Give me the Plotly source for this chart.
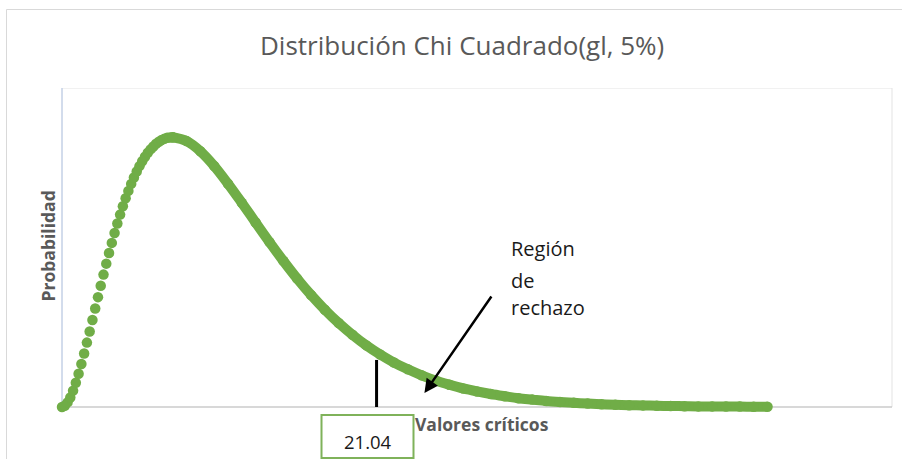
import plotly.graph_objects as go

# ---- data ----
title_text = "Distribución Chi Cuadrado(gl, 5%)"
y_title = "Probabilidad"
x_title = "Valores críticos"
critical_label = "21.04"
region_lines = ["Región", "de", "rechazo"]

# rising part of the density, x = 0.0 .. 4.0 (step 0.1)
rise_y = [0.0000, 0.0006, 0.0023, 0.0048, 0.0082, 0.0122, 0.0167, 0.0216, 0.0268, 0.0323,
          0.0379, 0.0436, 0.0494, 0.0551, 0.0608, 0.0664, 0.0719, 0.0772, 0.0823, 0.0873,
          0.0920, 0.0965, 0.1007, 0.1047, 0.1084, 0.1119, 0.1151, 0.1181, 0.1208, 0.1233,
          0.1255, 0.1275, 0.1292, 0.1307, 0.1320, 0.1330, 0.1339, 0.1345, 0.1350, 0.1352,
          0.1353]
# tail of the density, x = 4.0 .. 25.5 (step 0.5)
tail_y = [0.1353, 0.1334, 0.1283, 0.1209, 0.1120, 0.1024, 0.0925, 0.0827, 0.0733, 0.0644,
          0.0562, 0.0488, 0.0421, 0.0362, 0.0309, 0.0263, 0.0223, 0.0189, 0.0159, 0.0133,
          0.0112, 0.0093, 0.0078, 0.0065, 0.0054, 0.0044, 0.0037, 0.0030, 0.0025, 0.0021,
          0.0017, 0.0014, 0.0011, 0.0009, 0.0008, 0.0006, 0.0005, 0.0004, 0.0003, 0.0003,
          0.0002, 0.0002, 0.0001, 0.0001]

crit_x = 11.37       # where the critical line is drawn on the x axis
crit_top = 0.0236    # top of the critical line
arrow_tip = (13.1, 0.0070)

X_MAX = 30
Y_MAX = 0.16
Y_MIN = -0.01204     # a little room below zero so the thick tail is not clipped

GREEN = "#70ad47"
GRAY_TXT = "#595959"
FONT = "Open Sans"

# plot area in page pixels
L, R, T, B = 62, 892, 88, 431

fig = go.Figure()
fig.add_trace(go.Scatter(
    y=rise_y, x0=0, dx=0.1, mode="markers",
    marker=dict(size=10.5, color=GREEN, line=dict(width=0)),
    cliponaxis=False, showlegend=False, hoverinfo="skip"))
fig.add_trace(go.Scatter(
    y=tail_y, x0=4.0, dx=0.5, mode="lines+markers",
    line=dict(color=GREEN, width=10, shape="spline"),
    marker=dict(size=10.5, color=GREEN, line=dict(width=0)),
    cliponaxis=False, showlegend=False, hoverinfo="skip"))

def px_x(p):
    return (p - L) / float(R - L)

def px_y(p):
    return (B - p) / float(B - T)

shapes = [
    # outer chart border
    dict(type="rect", xref="paper", yref="paper", x0=px_x(6.5), x1=px_x(906),
         y0=px_y(470), y1=px_y(9.5), line=dict(color="#d9d9d9", width=1), layer="below"),
    # plot area border (faint)
    dict(type="rect", xref="paper", yref="y", x0=0, x1=1, y0=0, y1=Y_MAX,
         line=dict(color="#e3e3e3", width=1), layer="below"),
    # x axis line
    dict(type="line", xref="paper", yref="y", x0=0, x1=1, y0=0, y1=0,
         line=dict(color="#bfbfbf", width=1), layer="below"),
    # y axis line
    dict(type="line", xref="paper", yref="y", x0=0, x1=0, y0=0, y1=Y_MAX,
         line=dict(color="#b4c7e7", width=1), layer="below"),
    # critical value line
    dict(type="line", xref="x", yref="y", x0=crit_x, x1=crit_x, y0=0, y1=crit_top,
         line=dict(color="black", width=3)),
    # box around the critical value
    dict(type="rect", xref="paper", yref="paper", x0=px_x(321.5), x1=px_x(413.5),
         y0=px_y(458), y1=px_y(415), line=dict(color="#7fb25a", width=2)),
]

annotations = [
    dict(text=title_text, xref="paper", yref="paper", x=px_x(461.5), y=px_y(45),
         xanchor="center", yanchor="middle", showarrow=False,
         font=dict(family=FONT, size=26, color=GRAY_TXT)),
    dict(text="<b>" + y_title + "</b>", xref="paper", yref="paper", x=px_x(47.5), y=px_y(246),
         xanchor="center", yanchor="middle", textangle=-90, showarrow=False,
         font=dict(family=FONT, size=17.5, color=GRAY_TXT)),
    dict(text="<b>" + x_title + "</b>", xref="paper", yref="paper", x=px_x(481.5), y=px_y(424),
         xanchor="center", yanchor="middle", showarrow=False,
         font=dict(family=FONT, size=17.5, color=GRAY_TXT)),
    dict(text=critical_label, xref="paper", yref="paper", x=px_x(368), y=px_y(441),
         xanchor="center", yanchor="middle", showarrow=False,
         font=dict(family=FONT, size=18.5, color="#1a1a1a")),
    dict(text="", x=arrow_tip[0], y=arrow_tip[1], xref="x", yref="y",
         showarrow=True, arrowhead=2, arrowsize=1.1, arrowwidth=2.5, arrowcolor="black",
         ax=68, ay=-98),
]
for line_txt, ypix in zip(region_lines, [248, 280, 307]):
    annotations.append(dict(text=line_txt, xref="paper", yref="paper", x=px_x(509), y=px_y(ypix),
                            xanchor="left", yanchor="middle", showarrow=False,
                            font=dict(family=FONT, size=20, color="#1a1a1a")))

fig.update_layout(
    width=902, height=459,
    margin=dict(l=L, r=902 - R, t=T, b=459 - B),
    paper_bgcolor="white", plot_bgcolor="white",
    xaxis=dict(range=[0, X_MAX], showgrid=False, zeroline=False, showticklabels=False,
               ticks="", showline=False),
    yaxis=dict(range=[Y_MIN, Y_MAX], showgrid=False, zeroline=False, showticklabels=False,
               ticks="", showline=False),
    shapes=shapes,
    annotations=annotations,
)

fig.write_html("out.html", config={"displayModeBar": False},
               post_script="document.body.style.margin='0';")
